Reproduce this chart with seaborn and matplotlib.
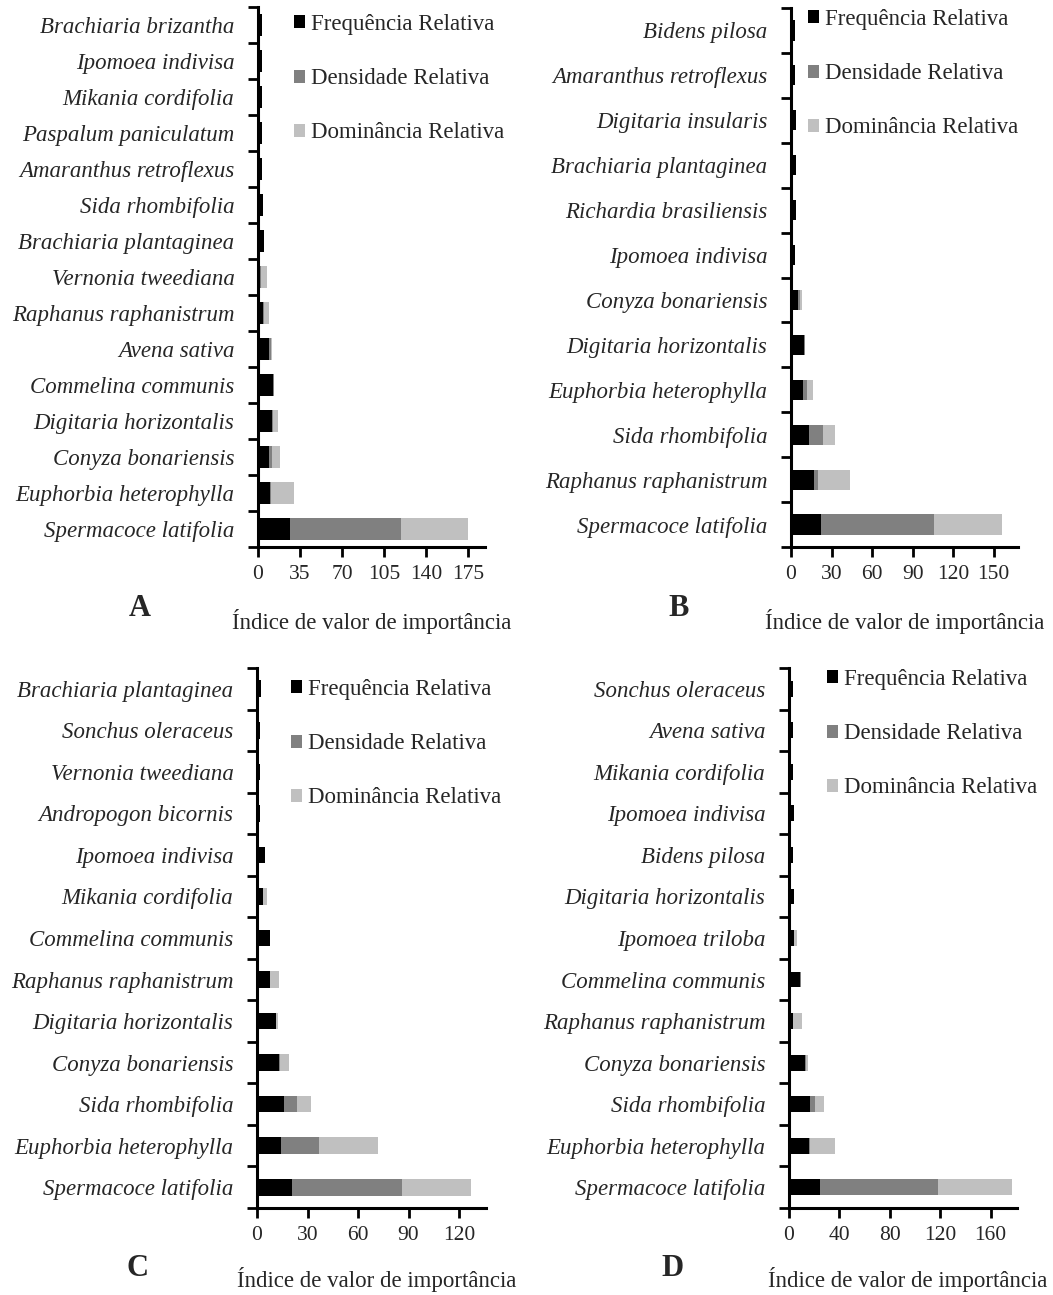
import numpy as np
import pandas as pd
import matplotlib
matplotlib.use("Agg")
import matplotlib.pyplot as plt
from matplotlib.patches import Patch
from matplotlib.ticker import FixedLocator
import seaborn as sns

sns.set_theme(style="white")
plt.rcParams["font.family"] = ["Liberation Serif", "DejaVu Serif"]

# ---- Panel A ----
species_a = ["Brachiaria brizantha", "Ipomoea indivisa", "Mikania cordifolia",
             "Paspalum paniculatum", "Amaranthus retroflexus", "Sida rhombifolia",
             "Brachiaria plantaginea", "Vernonia tweediana", "Raphanus raphanistrum",
             "Avena sativa", "Commelina communis", "Digitaria horizontalis",
             "Conyza bonariensis", "Euphorbia heterophylla", "Spermacoce latifolia"]
freq_a = [3, 3, 3, 3.5, 3.5, 4.5, 5, 2, 4.5, 9.5, 12.5, 12, 9.5, 10, 27]
dens_a = [0, 0, 0, 0, 0, 0, 0, 0.5, 0.5, 1, 0.5, 0.5, 2.5, 1, 92]
dom_a = [0, 0, 0, 0, 0, 0, 0, 5, 4, 1, 0.5, 4, 6, 19, 56]
ticks_a = [0, 35, 70, 105, 140, 175]

# ---- Panel B ----
species_b = ["Bidens pilosa", "Amaranthus retroflexus", "Digitaria insularis",
             "Brachiaria plantaginea", "Richardia brasiliensis", "Ipomoea indivisa",
             "Conyza bonariensis", "Digitaria horizontalis", "Euphorbia heterophylla",
             "Sida rhombifolia", "Raphanus raphanistrum", "Spermacoce latifolia"]
freq_b = [3, 3, 4, 3.5, 3.5, 3, 5.5, 9.5, 9, 13, 17, 22]
dens_b = [0, 0, 0, 0, 0, 0, 1.5, 0.5, 2.5, 10.5, 3, 84]
dom_b = [0, 0, 0, 0, 0, 0, 1.5, 0.5, 5, 9, 24, 50]
ticks_b = [0, 30, 60, 90, 120, 150]

# ---- Panel C ----
species_c = ["Brachiaria plantaginea", "Sonchus oleraceus", "Vernonia tweediana",
             "Andropogon bicornis", "Ipomoea indivisa", "Mikania cordifolia",
             "Commelina communis", "Raphanus raphanistrum", "Digitaria horizontalis",
             "Conyza bonariensis", "Sida rhombifolia", "Euphorbia heterophylla",
             "Spermacoce latifolia"]
freq_c = [2.5, 2, 2, 1.5, 4.5, 3.5, 7.5, 7.5, 11, 13, 16, 14, 21]
dens_c = [0, 0, 0, 0, 0, 0, 0, 0.5, 0.5, 0.5, 8, 23, 65]
dom_c = [0, 0, 0, 0, 0, 2.5, 0, 5, 1, 5.5, 8, 35, 41]
ticks_c = [0, 30, 60, 90, 120]

# ---- Panel D ----
species_d = ["Sonchus oleraceus", "Avena sativa", "Mikania cordifolia",
             "Ipomoea indivisa", "Bidens pilosa", "Digitaria horizontalis",
             "Ipomoea triloba", "Commelina communis", "Raphanus raphanistrum",
             "Conyza bonariensis", "Sida rhombifolia", "Euphorbia heterophylla",
             "Spermacoce latifolia"]
freq_d = [3, 3, 3, 4, 3, 4, 4, 9, 3, 12.5, 16.5, 15.5, 25]
dens_d = [0, 0, 0, 0, 0, 0, 0, 0.5, 0, 1, 4, 1, 93]
dom_d = [0, 0, 0, 0, 0, 0, 2, 0, 7, 1.5, 7, 20, 59]
ticks_d = [0, 40, 80, 120, 160]

series_names = ["Frequência Relativa", "Densidade Relativa", "Dominância Relativa"]
colors = ["#000000", "#808080", "#c0c0c0"]
xlabel = "Índice de valor de importância"

W, H = 1053, 1295
fig = plt.figure(figsize=(W / 100, H / 100), dpi=100)
fig.patch.set_facecolor("white")

panels = [
    # letter, species, F, D, Dom, ticks, xmax, axes rect (px: left, top, right, bottom), bar height,
    # legend anchor (px), letter pos (px), xlabel pos (px)
    ("A", species_a, freq_a, dens_a, dom_a, ticks_a, 189, (258, 7, 485, 547), 0.6,
     (294, 14), (140, 608), (372, 621)),
    ("B", species_b, freq_b, dens_b, dom_b, ticks_b, 168, (791, 8, 1018, 547), 0.45,
     (808, 9), (679, 608), (905, 621)),
    ("C", species_c, freq_c, dens_c, dom_c, ticks_c, 136, (257, 668, 486, 1208), 0.4,
     (291, 679), (137, 1268), (377, 1280)),
    ("D", species_d, freq_d, dens_d, dom_d, ticks_d, 181, (789, 668, 1017, 1208), 0.38,
     (827, 669), (673, 1268), (908, 1280)),
]

for (letter, sp, f, d, dm, ticks, xmax, rect, bh, leg_xy, let_xy, xl_xy) in panels:
    l, t, r, b = rect
    ax = fig.add_axes([l / W, 1 - b / H, (r - l) / W, (b - t) / H])
    df = pd.DataFrame({"species": sp, "F": f, "D": d, "Dom": dm})
    df["FD"] = df["F"] + df["D"]
    df["total"] = df["FD"] + df["Dom"]
    # stacked bars: draw cumulative totals back to front
    for col, c in zip(["total", "FD", "F"], colors[::-1]):
        sns.barplot(data=df, x=col, y="species", order=sp, color=c, orient="h",
                    width=bh, saturation=1, ax=ax, edgecolor="none", linewidth=0)
    n = len(sp)
    ax.set_ylim(n - 0.5, -0.5)
    ax.set_xlim(0, xmax)
    ax.set_xticks(ticks)
    ax.set_xticklabels([str(v) for v in ticks], fontsize=15.5)
    ax.set_yticks(range(n))
    ax.set_yticklabels(sp, fontsize=16.5, fontstyle="italic")
    ax.yaxis.set_minor_locator(FixedLocator(np.arange(-0.5, n, 1.0)))
    ax.tick_params(axis="y", which="major", length=0, pad=17)
    ax.tick_params(axis="y", which="minor", length=7, width=2, direction="out", color="black", left=True)
    ax.tick_params(axis="x", which="major", length=7, width=2, direction="out", color="black",
                   bottom=True, pad=6)
    ax.set_xlabel("")
    ax.set_ylabel("")
    for s in ["top", "right"]:
        ax.spines[s].set_visible(False)
    for s in ["left", "bottom"]:
        ax.spines[s].set_color("black")
        ax.spines[s].set_linewidth(2.2)
    ax.set_facecolor("white")
    ax.grid(False)

    handles = [Patch(facecolor=c, edgecolor="none") for c in colors]
    fig.legend(handles, series_names, loc="upper left",
               bbox_to_anchor=(leg_xy[0] / W, 1 - leg_xy[1] / H),
               frameon=False, fontsize=16.5, handlelength=0.5, handleheight=0.5,
               handletextpad=0.25, labelspacing=1.45, borderaxespad=0, borderpad=0)
    fig.text(let_xy[0] / W, 1 - let_xy[1] / H, letter, fontsize=22, fontweight="bold",
             ha="center", va="center")
    fig.text(xl_xy[0] / W, 1 - xl_xy[1] / H, xlabel, fontsize=16.5, ha="center", va="center")

fig.savefig("out.png", dpi=100, facecolor="white")
